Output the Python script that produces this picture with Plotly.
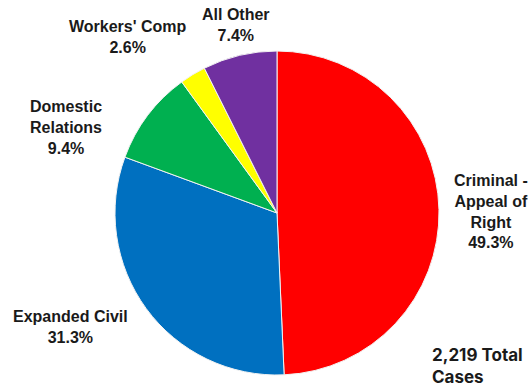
import plotly.graph_objects as go

# Case mix by type
categories = ["Criminal -<br>Appeal of<br>Right", "Expanded Civil", "Domestic<br>Relations",
              "Workers' Comp", "All Other"]
shares = [49.3, 31.3, 9.4, 2.6, 7.4]
colors = ["#FF0000", "#0070C0", "#00B050", "#FFFF00", "#7030A0"]
total_cases = "2,219"

W, H = 530, 389

fig = go.Figure(go.Pie(
    labels=categories,
    values=shares,
    sort=False,
    direction="clockwise",
    rotation=0,
    marker=dict(colors=colors, line=dict(color="#F2F2F2", width=1)),
    textinfo="none",
    hoverinfo="label+percent",
    domain=dict(x=[(277 - 162) / W, (277 + 162) / W],
                y=[(H - 213 - 162) / H, (H - 213 + 162) / H]),
    showlegend=False,
))

# label anchor points (pixel centres) for each slice
label_xy = [(491, 211), (70, 327), (66, 127), (128, 37), (236, 25)]

annotations = []
for name, val, (px, py) in zip(categories, shares, label_xy):
    annotations.append(dict(
        text=f"{name}<br>{val:.1f}%",
        x=px / W, y=1 - py / H, xref="paper", yref="paper",
        xanchor="center", yanchor="middle", showarrow=False, align="center",
        font=dict(family="Liberation Sans, Arial", size=16, color="#1a1a1a", weight="bold"),
    ))

annotations.append(dict(
    text=f"{total_cases} Total<br>Cases",
    x=430 / W, y=1 - 366 / H, xref="paper", yref="paper",
    xanchor="left", yanchor="middle", showarrow=False, align="left",
    font=dict(family="Inter, Roboto", size=17, color="#1a1a1a", weight="bold"),
))

fig.update_layout(
    width=W, height=H,
    margin=dict(l=0, r=0, t=0, b=0),
    paper_bgcolor="white",
    plot_bgcolor="white",
    annotations=annotations,
)

fig.write_html("out.html")
